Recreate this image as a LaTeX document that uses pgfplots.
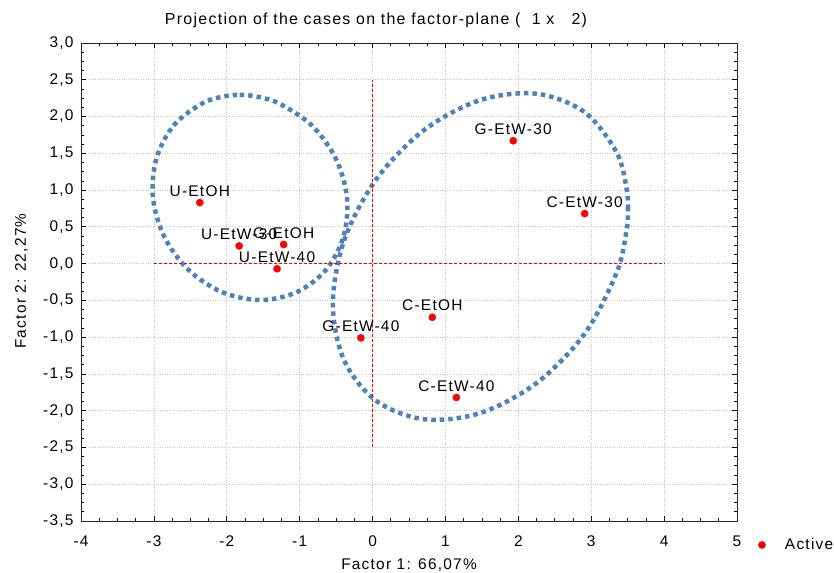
\documentclass[border=0pt]{standalone}
\usepackage{fontspec}
\setmainfont{Liberation Sans}[LetterSpace=8]
\usepackage{pgfplots}
\usepackage{pgfplotstable}
\pgfplotsset{compat=1.18}
\definecolor{ellblue}{RGB}{79,129,189}
\newcommand{\fs}{\fontsize{15.5}{18}\selectfont}

\pgfplotstableread{
x y label
-2.37 0.83 U-EtOH
-1.83 0.24 U-EtW-30
-1.22 0.26 G-EtOH
-1.31 -0.07 U-EtW-40
1.93 1.67 G-EtW-30
2.91 0.68 C-EtW-30
0.82 -0.73 C-EtOH
-0.16 -1.01 G-EtW-40
1.15 -1.82 C-EtW-40
}\points

\begin{document}
\begin{tikzpicture}
\begin{axis}[
  name=ax,
  scale only axis, width=656bp, height=478bp,
  xmin=-4, xmax=5, ymin=-3.5, ymax=3,
  xtick={-4,-3,...,5}, ytick={-3.5,-3,...,3},
  minor x tick num=3, minor y tick num=3,
  tick align=inside, major tick length=5bp, minor tick length=3bp,
  tick style={black, line width=0.7bp},
  grid=major, major grid style={gray!45, dotted, line width=0.7bp},
  axis line style={black!85, line width=0.9bp},
  /pgf/number format/assume math mode=true,
  ticklabel style={font=\fs},
  yticklabel style={xshift=-4bp, /pgf/number format/.cd, fixed, fixed zerofill, precision=1, use comma},
  xticklabel style={yshift=-11bp, /pgf/number format/.cd, fixed, precision=0},
  clip=false,
  legend style={draw=none, fill=none, inner sep=0pt, outer sep=0pt,
    at={(rel axis cs:1.032,-0.0502)}, anchor=west, font=\fs,
    nodes={inner sep=0pt}},
  legend image code/.code={\path[draw=none] (0bp,0bp) -- (27bp,0bp); \draw[only marks, mark repeat=2, mark phase=2] plot coordinates {(0bp,0bp) (4bp,0bp) (27bp,0bp)};},
]
% ellipses
\addplot[ellblue, line width=4.5bp, dash pattern=on 4.5bp off 4bp, smooth, tension=0.55, forget plot] coordinates {
(-1.823,2.293) (-1.648,2.281) (-1.302,2.187) (-0.840,1.885) (-0.506,1.432) (-0.351,0.899) (-0.399,0.366) (-0.641,-0.087) (-1.043,-0.389) (-1.541,-0.495) (-2.062,-0.389) (-2.524,-0.087) (-2.858,0.366) (-3.013,0.899) (-2.965,1.432) (-2.723,1.885) (-2.321,2.187) (-1.995,2.281) (-1.823,2.293)
};
\addplot[ellblue, line width=4.5bp, dash pattern=on 4.5bp off 4bp, smooth, tension=0.55, forget plot] coordinates {
(3.504,0.743) (3.486,1.015) (3.350,1.508) (2.911,2.058) (2.254,2.309) (1.480,2.224) (0.706,1.815) (0.049,1.144) (-0.390,0.314) (-0.544,-0.550) (-0.390,-1.315) (0.049,-1.865) (0.706,-2.116) (1.480,-2.031) (2.254,-1.621) (2.911,-0.951) (3.350,-0.120) (3.486,0.460) (3.504,0.743)
};
% reference lines
\addplot[red, line width=0.7bp, dash pattern=on 3bp off 2bp, forget plot] coordinates {(0,-2.5) (0,2.5)};
\addplot[red, line width=0.7bp, dash pattern=on 3bp off 2bp, forget plot] coordinates {(-3,0) (4,0)};
% points
\addplot[only marks, mark=*, mark size=3.6bp, color=red,
  nodes near coords, point meta=explicit symbolic,
  every node near coord/.append style={font=\fs, text=black, anchor=south, inner sep=0pt, yshift=6bp}]
  table[x=x, y=y, meta=label] {\points};
\addlegendentry{Active}
% title and axis labels
\node[font=\fontsize{16}{18}\selectfont] at ([yshift=23bp]rel axis cs:0.4497,1) {Projection of the cases on the factor-plane (\ \ 1 x \ \ 2)};
\node[font=\fs] at ([yshift=-44bp]rel axis cs:0.5,0) {Factor 1: 66,07\%};
\node[font=\fs, rotate=90] at ([xshift=-59.5bp]rel axis cs:0,0.502) {Factor 2: 22,27\%};
\end{axis}
\pgfresetboundingbox
\path[use as bounding box] ([xshift=-81bp,yshift=-52bp]ax.south west) rectangle ([xshift=97bp,yshift=43bp]ax.north east);
\end{tikzpicture}
\end{document}
